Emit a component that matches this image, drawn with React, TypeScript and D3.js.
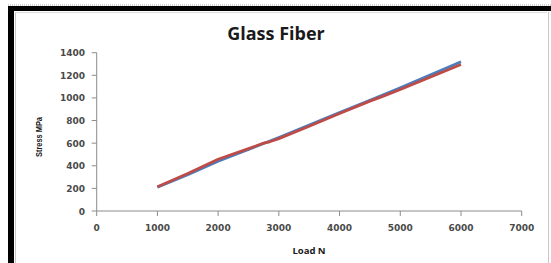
import * as d3 from 'd3';

const loadBlue = [1000, 1500, 2000, 2500, 3000, 3500, 4000, 4500, 5000, 5500, 6000];
const stressBlue = [210, 320, 440, 545, 650, 760, 870, 980, 1090, 1205, 1320];

const loadRed = [1000, 1500, 2000, 2500, 2750, 2850, 3000, 3500, 4000, 4500, 4700, 5000, 5500, 6000];
const stressRed = [215, 332, 458, 552, 600, 612, 640, 750, 862, 972, 1012, 1075, 1185, 1295];

const xTicks = [0, 1000, 2000, 3000, 4000, 5000, 6000, 7000];
const yTicks = [0, 200, 400, 600, 800, 1000, 1200, 1400];

const W = 551;
const H = 263;

export default function App() {
  const x = d3.scaleLinear().domain([0, 7000]).range([96.7, 521.7]);
  const y = d3.scaleLinear().domain([0, 1400]).range([211, 52.7]);

  const line = d3.line<[number, number]>()
    .x(d => x(d[0]))
    .y(d => y(d[1]));

  const blue = loadBlue.map((v, i) => [v, stressBlue[i]] as [number, number]);
  const red = loadRed.map((v, i) => [v, stressRed[i]] as [number, number]);

  const axisColor = '#8c8c8c';
  const tickFont = "'DejaVu Sans', sans-serif";

  return (
    <svg width={W} height={H} style={{ position: 'absolute', left: 0, top: 0, background: '#fff' }}>
      {/* frame */}
      <line x1={8} x2={W} y1={5} y2={5} stroke="#aaa" strokeWidth={1} strokeDasharray="1 1" />
      <rect x={8} y={6} width={W - 8} height={5} fill="#000" />
      <rect x={8} y={6} width={6} height={H - 6} fill="#000" />
      <line x1={15.5} x2={15.5} y1={12} y2={H} stroke="#c8c8c8" />
      <line x1={15} x2={547} y1={12.5} y2={12.5} stroke="#dcdcdc" />
      <line x1={548.5} x2={548.5} y1={12} y2={H} stroke="#c8c8c8" />

      {/* title */}
      <text x={276} y={40} textAnchor="middle" fontFamily="'Open Sans', sans-serif" fontWeight="bold" fontSize={18} fill="#1a1a1a">
        Glass Fiber
      </text>

      {/* y axis */}
      <line x1={x(0)} x2={x(0)} y1={y(1400)} y2={y(0)} stroke={axisColor} />
      {yTicks.map(t => (
        <g key={'y' + t}>
          <line x1={x(0) - 5} x2={x(0)} y1={y(t)} y2={y(t)} stroke={axisColor} />
          <text x={85} y={y(t) + 3.5} textAnchor="end" fontFamily={tickFont} fontWeight="bold" fontSize={9} fill="#4a4a4a">
            {t}
          </text>
        </g>
      ))}

      {/* x axis */}
      <line x1={x(0)} x2={x(7000)} y1={y(0)} y2={y(0)} stroke={axisColor} />
      {xTicks.map(t => (
        <g key={'x' + t}>
          <line x1={x(t)} x2={x(t)} y1={y(0)} y2={y(0) + 5} stroke={axisColor} />
          <text x={x(t)} y={231} textAnchor="middle" fontFamily={tickFont} fontWeight="bold" fontSize={9} fill="#4a4a4a">
            {t}
          </text>
        </g>
      ))}

      {/* axis titles */}
      <text x={309} y={254} textAnchor="middle" fontFamily="'Open Sans', sans-serif" fontWeight="bold" fontSize={9.5} fill="#1a1a1a">
        Load N
      </text>
      <text transform="translate(42,137) rotate(-90)" textAnchor="middle" fontFamily="'Liberation Sans', sans-serif" fontWeight="bold" fontSize={9} textLength={40} lengthAdjust="spacingAndGlyphs" fill="#1a1a1a">
        Stress MPa
      </text>

      {/* series */}
      <path d={line(blue) ?? ''} fill="none" stroke="#4a7ebb" strokeWidth={2.8} strokeLinejoin="round" />
      <path d={line(red) ?? ''} fill="none" stroke="#be4b48" strokeWidth={2.8} strokeLinejoin="round" />
    </svg>
  );
}
